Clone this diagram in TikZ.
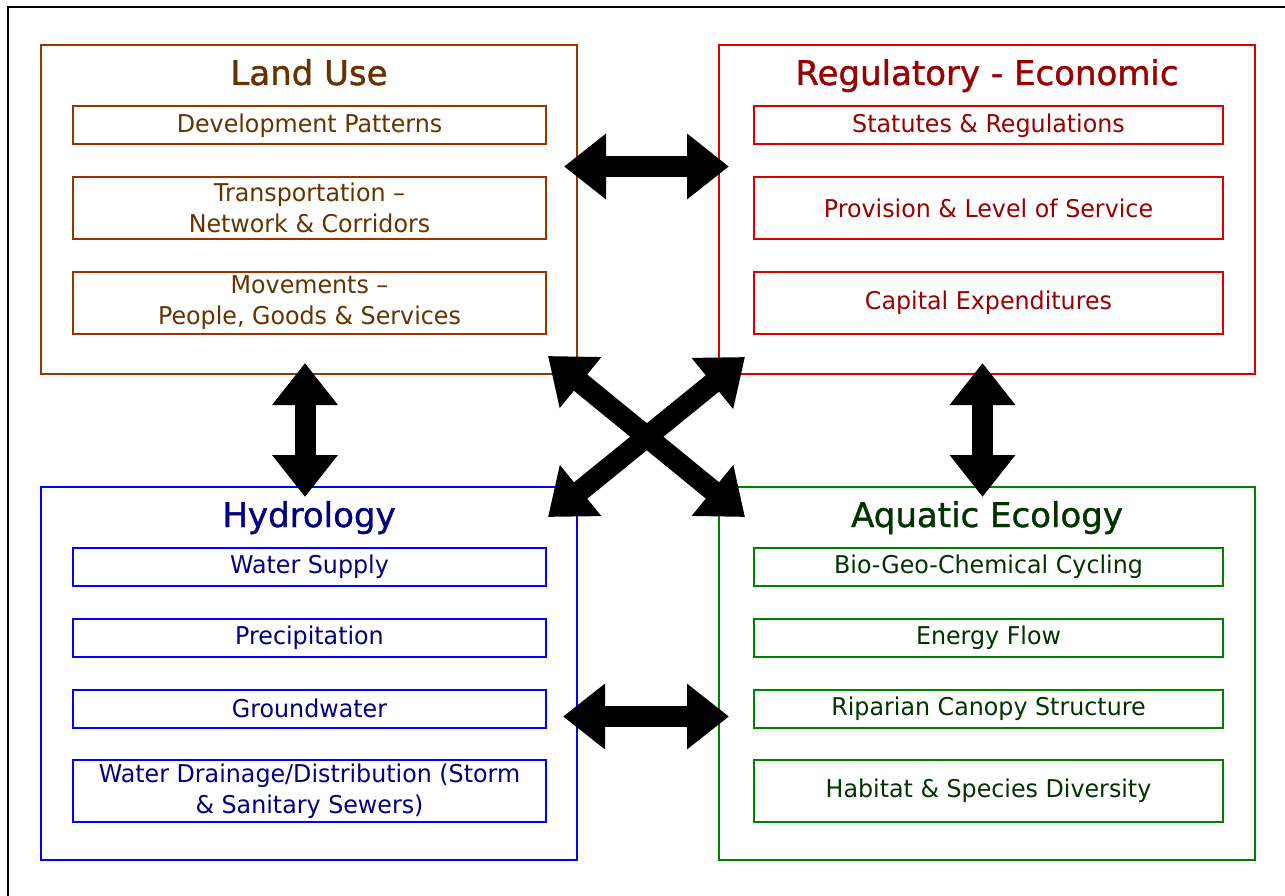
\documentclass[tikz,border=0pt]{standalone}
\usepackage{fontspec}
\setmainfont{DejaVu Sans}[FakeStretch=0.97]
\newfontfamily\headfam{DejaVu Sans}[FakeBold=1.2]
\usetikzlibrary{arrows.meta}
\definecolor{luline}{HTML}{993300}
\definecolor{lutext}{HTML}{663300}
\definecolor{reline}{HTML}{DD0000}
\definecolor{retext}{HTML}{990000}
\definecolor{hyline}{HTML}{0000FF}
\definecolor{hytext}{HTML}{000080}
\definecolor{aqline}{HTML}{008000}
\definecolor{aqtext}{HTML}{003300}
\newcommand{\titlefont}{\headfam\fontsize{34}{38}\selectfont}
\newcommand{\itemfont}{\fontsize{24.5}{31}\selectfont}
\tikzset{
  group/.style={draw, line width=2pt, minimum width=536pt, inner sep=0pt},
  grouptitle/.style={anchor=base, inner sep=0pt, font=\titlefont},
  item/.style={draw, line width=2pt, inner sep=0pt, align=center, font=\itemfont},
  leftitem/.style={item, minimum width=473pt},
  rightitem/.style={item, minimum width=469pt},
  single/.style={minimum height=38pt},
  double/.style={minimum height=62pt},
  blockarrow/.style={line width=21pt, {Triangle[length=42pt,width=63pt]}-{Triangle[length=42pt,width=63pt]}, shorten <=0pt, shorten >=0pt},
}
\begin{document}
\begin{tikzpicture}[x=1pt, y=-1pt]
\useasboundingbox (0,0) rectangle (1285,896);
% outer frame, open to the right and bottom
\draw[line width=2.5pt] (8,900) -- (8,7) -- (1290,7);

% Land Use
\node[group, luline, minimum height=329pt] (landuse) at (309,209.5) {};
\node[grouptitle, lutext] (landuse-title) at (309,85) {Land Use};
\node[leftitem, single, draw=luline, text=lutext] (lu1) at (309.5,125.5) {Development Patterns};
\node[leftitem, double, draw=luline, text=lutext] (lu2) at (309.5,208) {Transportation –\\Network \& Corridors};
\node[leftitem, double, draw=luline, text=lutext] (lu3) at (309.5,303) {Movements –\\People, Goods \& Services};

% Regulatory - Economic
\node[group, reline, minimum height=329pt] (regecon) at (987,209.5) {};
\node[grouptitle, retext] (regecon-title) at (987,85) {Regulatory - Economic};
\node[rightitem, single, draw=reline, text=retext] (re1) at (988.5,125.5) {Statutes \& Regulations};
\node[rightitem, double, draw=reline, text=retext] (re2) at (988.5,208) {Provision \& Level of Service};
\node[rightitem, double, draw=reline, text=retext] (re3) at (988.5,303) {Capital Expenditures};

% Hydrology
\node[group, hyline, minimum height=373pt] (hydro) at (309,673.5) {};
\node[grouptitle, hytext] (hydro-title) at (309,527) {Hydrology};
\node[leftitem, single, draw=hyline, text=hytext] (hy1) at (309.5,566.5) {Water Supply};
\node[leftitem, single, draw=hyline, text=hytext] (hy2) at (309.5,637.5) {Precipitation};
\node[leftitem, single, draw=hyline, text=hytext] (hy3) at (309.5,708.5) {Groundwater};
\node[leftitem, double, draw=hyline, text=hytext] (hy4) at (309.5,791) {Water Drainage/Distribution (Storm\\\& Sanitary Sewers)};

% Aquatic Ecology
\node[group, aqline, minimum height=373pt] (aquatic) at (987,673.5) {};
\node[grouptitle, aqtext] (aquatic-title) at (987,527) {Aquatic Ecology};
\node[rightitem, single, draw=aqline, text=aqtext] (aq1) at (988.5,566.5) {Bio-Geo-Chemical Cycling};
\node[rightitem, single, draw=aqline, text=aqtext] (aq2) at (988.5,637.5) {Energy Flow};
\node[rightitem, single, draw=aqline, text=aqtext] (aq3) at (988.5,708.5) {Riparian Canopy Structure};
\node[rightitem, double, draw=aqline, text=aqtext] (aq4) at (988.5,791) {Habitat \& Species Diversity};

% arrow end points between the groups
\coordinate (lu-re-a) at (564,166.5);
\coordinate (lu-re-b) at (729,166.5);
\coordinate (hy-aq-a) at (563,716.5);
\coordinate (hy-aq-b) at (729,716.5);
\coordinate (lu-hy-a) at (305,363);
\coordinate (lu-hy-b) at (305,497);
\coordinate (re-aq-a) at (982.5,363);
\coordinate (re-aq-b) at (982.5,497);
\coordinate (lu-aq-a) at (548,356);
\coordinate (lu-aq-b) at (745,517);
\coordinate (re-hy-a) at (745,357);
\coordinate (re-hy-b) at (548,517);

% two-headed block arrows
\draw[blockarrow] (lu-re-a) -- (lu-re-b);
\draw[blockarrow] (hy-aq-a) -- (hy-aq-b);
\draw[blockarrow] (lu-hy-a) -- (lu-hy-b);
\draw[blockarrow] (re-aq-a) -- (re-aq-b);
\draw[blockarrow] (lu-aq-a) -- (lu-aq-b);
\draw[blockarrow] (re-hy-a) -- (re-hy-b);
\end{tikzpicture}
\end{document}
